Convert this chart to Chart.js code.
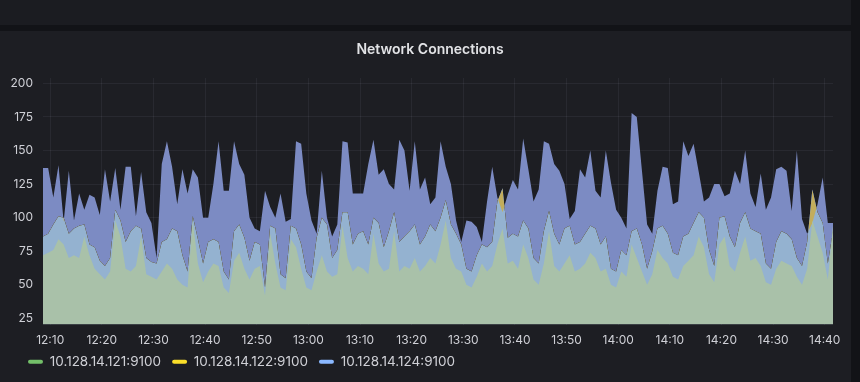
<!DOCTYPE html>
<html><head><meta charset="utf-8">
<script src="https://cdn.jsdelivr.net/npm/chart.js@4.4.1/dist/chart.umd.min.js"></script>
<style>
html,body{margin:0;padding:0;background:#121317;width:860px;height:382px;overflow:hidden;}
#top{position:absolute;left:0;top:0;width:851px;height:25px;background:#1b1c21;}
#panel{position:absolute;left:0;top:31px;width:851px;height:351px;background:#1d1e23;}
#c{position:absolute;left:0;top:0;}
</style></head><body>
<div id="top"></div>
<div id="panel"><canvas id="c" width="851" height="351"></canvas></div>
<script>
const seriesNames = ['10.128.14.121:9100', '10.128.14.122:9100', '10.128.14.124:9100'];
const seriesColors = ['#73BF69', '#FADE2A', '#8AB8FF'];

const conn121 = [
 72,74,76,84,80,70,72,70,86,72,
 62,58,54,60,98,86,62,60,64,86,
 58,56,54,60,66,62,54,50,48,98,
 66,52,60,66,64,48,44,68,74,62,
 54,62,64,42,88,66,48,46,84,78,
 62,48,46,60,72,60,56,58,94,70,
 60,64,62,58,88,66,60,62,90,60,
 64,62,70,60,64,70,66,80,98,70,
 62,60,50,48,56,66,60,64,80,92,
 66,68,62,80,70,54,50,66,90,64,
 60,66,72,60,62,66,74,70,60,62,
 50,48,60,56,80,70,60,50,58,76,
 70,66,56,54,64,68,72,86,78,58,
 52,80,86,64,60,74,86,68,70,64,
 52,50,62,68,66,64,56,50,62,98,
 86,74,54,94];

const conn122 = [
 86,88,95,101,100,88,92,94,95,80,
 78,68,64,70,106,98,82,90,94,92,
 70,67,66,82,84,92,90,72,60,101,
 84,66,82,84,82,60,54,90,95,85,
 68,82,80,48,94,92,58,55,94,92,
 80,60,55,85,100,95,70,76,104,104,
 80,88,90,80,100,96,78,90,104,82,
 86,90,95,80,86,95,90,100,113,95,
 88,80,62,60,72,80,78,82,112,122,
 85,88,86,98,92,70,66,90,105,88,
 80,92,94,80,82,88,94,92,80,86,
 62,60,76,72,90,92,80,62,75,92,
 94,88,74,72,86,88,96,104,100,76,
 64,100,101,86,78,96,104,92,90,88,
 66,62,82,90,88,84,70,64,82,121,
 104,96,66,90];

const conn124 = [
 137,137,115,139,97,135,98,118,106,117,
 115,102,136,112,137,106,138,138,101,134,
 104,96,70,140,157,138,110,136,118,136,
 130,100,100,125,157,120,120,157,140,132,
 100,92,90,120,108,100,118,97,99,157,
 155,118,98,88,135,100,86,95,157,156,
 118,118,118,140,158,132,136,125,121,158,
 150,120,157,121,130,110,115,157,138,125,
 98,82,98,97,93,82,112,138,115,104,
 117,128,121,159,136,112,121,157,155,140,
 135,125,99,105,136,130,150,120,115,150,
 126,106,100,92,178,175,135,95,88,120,
 138,137,110,112,157,146,155,134,112,115,
 125,125,116,118,135,125,150,118,108,133,
 106,115,136,138,135,105,150,99,88,96,
 110,130,96,96];

const xTickLabels = ['12:10','12:20','12:30','12:40','12:50','13:00','13:10','13:20','13:30','13:40','13:50','14:00','14:10','14:20','14:30','14:40'];
const yTickValues = [25, 50, 75, 100, 125, 150, 175, 200];

const START_MIN = 12 * 60 + 8.6;   // first sample 12:08:36
const STEP_MIN = 1;                // one sample per minute
const toMin = s => { const p = s.split(':').map(Number); return p[0] * 60 + p[1]; };
const pts = arr => arr.map((y, i) => ({ x: START_MIN + i * STEP_MIN, y }));

const TEXT = '#cfd0d6';
const GRID = 'rgba(204,204,220,0.07)';
Chart.defaults.font.family = 'Inter, "Noto Sans", sans-serif';

const layoutFix = {
  id: 'layoutFix',
  afterLayout(chart) {
    const t = chart.titleBlock; if (t) { t.left = 9; t.right = 851; }
    const l = chart.legend; if (l) { l.left = 17; l.right = 851; }
  }
};

const common = { borderWidth: 0, borderColor: 'transparent', pointRadius: 0, pointHoverRadius: 0, tension: 0 };

new Chart(document.getElementById('c'), {
  type: 'line',
  data: {
    datasets: [
      Object.assign({ label: seriesNames[0], data: pts(conn121), backgroundColor: '#a9c1a9', fill: 'origin', order: 0 }, common),
      Object.assign({ label: seriesNames[1], data: pts(conn122), backgroundColor: '#94b2d0', fill: 'origin', order: 2 }, common),
      Object.assign({ label: seriesNames[2], data: pts(conn124), backgroundColor: '#7c8bc3',
        fill: { target: 1, above: '#7c8bc3', below: '#c2ad5c' }, order: 1 }, common)
    ]
  },
  options: {
    responsive: false,
    animation: false,
    devicePixelRatio: 1,
    layout: { padding: { left: 0, right: 18, top: 0, bottom: 3.5 } },
    plugins: {
      tooltip: { enabled: false },
      title: {
        display: true, text: 'Network Connections', color: '#e2e3e6',
        font: { size: 14, weight: '600' }, padding: { top: 10.6, bottom: 19.6 }
      },
      legend: {
        position: 'bottom', align: 'start',
        labels: {
          boxWidth: 15, boxHeight: 4, padding: 11, color: TEXT, font: { size: 13.5 },
          useBorderRadius: true, borderRadius: 2,
          generateLabels: () => seriesNames.map((n, i) => ({
            text: n, fillStyle: seriesColors[i], strokeStyle: seriesColors[i], lineWidth: 0,
            hidden: false, datasetIndex: i, fontColor: TEXT, borderRadius: 2
          }))
        }
      }
    },
    scales: {
      x: {
        type: 'linear', min: START_MIN, max: START_MIN + 153,
        afterBuildTicks: s => { s.ticks = xTickLabels.map(l => ({ value: toMin(l) })); },
        afterFit: s => { s.height = 19.5; },
        ticks: { color: TEXT, font: { size: 12 }, padding: 9, maxRotation: 0, autoSkip: false,
          callback: (v, i) => xTickLabels[i] },
        grid: { color: GRID, drawTicks: false },
        border: { display: false }
      },
      y: {
        min: 20.5, max: 204,
        afterBuildTicks: s => { s.ticks = yTickValues.map(v => ({ value: v })); },
        afterFit: s => { s.width = 43; },
        ticks: { color: TEXT, font: { size: 12 }, padding: 10, callback: v => String(v) },
        grid: { color: GRID, drawTicks: false },
        border: { display: false }
      }
    }
  },
  plugins: [layoutFix]
});
</script></body></html>
